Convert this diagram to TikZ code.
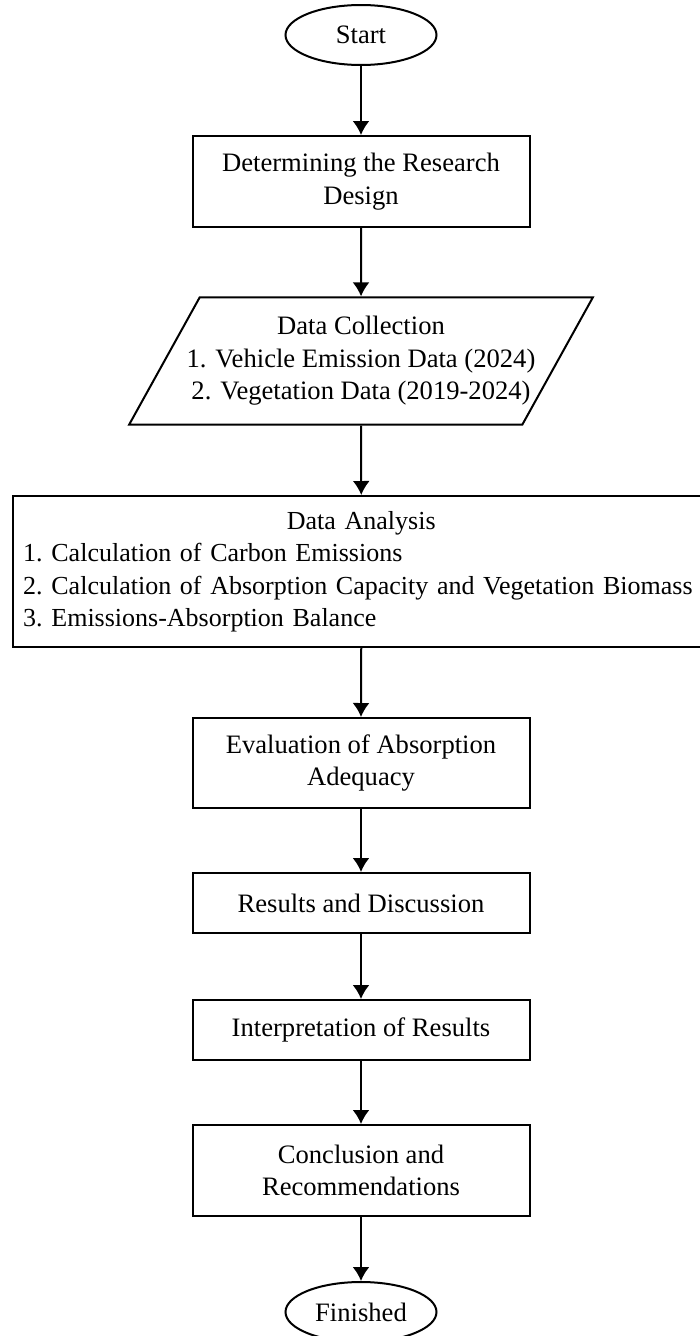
\documentclass[tikz,border=0pt]{standalone}
\usepackage{fontspec}
\setmainfont{Liberation Serif}
\usetikzlibrary{shapes.geometric}
\usetikzlibrary{arrows.meta}

\tikzset{
  term/.style={ellipse, draw, line width=2pt, minimum width=151pt, minimum height=60pt, inner sep=0pt},
  proc/.style={rectangle, draw, line width=2pt, minimum width=337pt, align=center, inner sep=0pt},
  inout/.style={trapezium, trapezium left angle=61, trapezium right angle=119, trapezium stretches body,
    draw, line width=2pt, minimum height=126pt, align=center, inner xsep=-13pt, inner ysep=19pt},
  flow/.style={-{Latex[length=14pt,width=17pt]}, line width=2pt}
}

\begin{document}
\begin{tikzpicture}[x=1pt, y=-1pt, font=\fontsize{26.6}{32.5}\selectfont]
\useasboundingbox (0,0) rectangle (699,1336);

%steps
\node[term] (start) at (361, 35) {Start};
\node[proc, minimum height=91pt] (design) at (361, 181.5) {Determining the Research\\Design};
\node[inout] (collect) at (361, 361) {Data Collection\\1. Vehicle Emission Data (2024)\\2. Vegetation Data (2019-2024)};
\node[proc, minimum width=697.5pt, minimum height=151pt, text width=676pt, align=left,
  font=\fontsize{26}{32.5}\selectfont\frenchspacing] (analysis) at (361.25, 571.5)
  {\makebox[676pt]{Data Analysis}\\
   \mbox{1. Calculation of Carbon Emissions}\\
   \mbox{2. Calculation of Absorption Capacity and Vegetation Biomass}\\
   \mbox{3. Emissions-Absorption Balance}};
\node[proc, minimum height=90pt] (eval) at (361, 763) {Evaluation of Absorption\\Adequacy};
\node[proc, minimum height=60pt] (results) at (361, 903) {Results and Discussion};
\node[proc, minimum height=60pt] (interp) at (361, 1030) {Interpretation of Results};
\node[proc, minimum height=91pt] (concl) at (361, 1170.5) {Conclusion and\\Recommendations};
\node[term] (finish) at (361, 1312) {Finished};

%arrows
\foreach \a/\b in {start/design, design/collect, collect/analysis, analysis/eval,
                   eval/results, results/interp, interp/concl, concl/finish}
  \draw[flow] (\a.south) -- (\b.north);
\end{tikzpicture}
\end{document}
